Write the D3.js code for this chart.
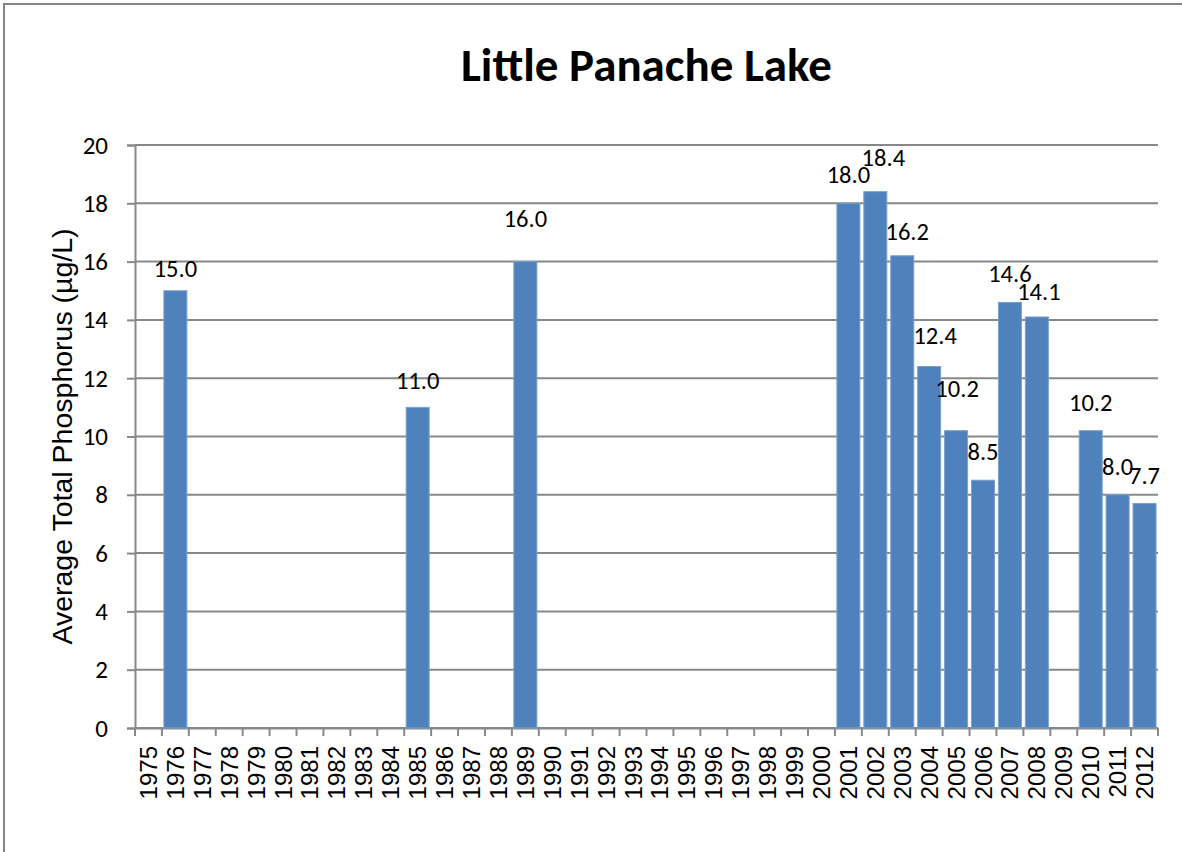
<!DOCTYPE html>
<html>
<head>
<meta charset="utf-8">
<script src="https://cdn.jsdelivr.net/npm/d3@7"></script>
<style>
  body { margin: 0; background: #fff; }
  svg { display: block; }
</style>
</head>
<body>
<div class="chart"></div>
<script>
// data
const years = d3.range(1975, 2013).map(String);
const sampleYears = ["1976", "1985", "1989", "2001", "2002", "2003", "2004", "2005", "2006", "2007", "2008", "2010", "2011", "2012"];
const phosphorus = [15.0, 11.0, 16.0, 18.0, 18.4, 16.2, 12.4, 10.2, 8.5, 14.6, 14.1, 10.2, 8.0, 7.7];
const yTicks = [0, 2, 4, 6, 8, 10, 12, 14, 16, 18, 20];

// small label nudges (the original labels were moved by hand to avoid overlaps)
const labelNudge = {
    "1976": [0, 6], "1985": [0, 2], "1989": [0, -15],
    "2002": [8, -6], "2003": [5, 4], "2004": [6, -3], "2005": [1, -14], "2008": [2, 3]
};

const data = sampleYears.map((y, i) => ({year: y, value: phosphorus[i]}));

const W = 1182, H = 852;
const margin = {top: 145, right: 24, bottom: 124, left: 135};
const width = W - margin.left - margin.right;
const height = H - margin.top - margin.bottom;

const root = d3.select('.chart').append('svg')
    .attr('width', W)
    .attr('height', H);

// outer frame (only left + top visible in the original)
root.append('rect')
    .attr('x', 4).attr('y', 4)
    .attr('width', W + 20).attr('height', H + 20)
    .attr('fill', 'none')
    .attr('stroke', '#868686')
    .attr('stroke-width', 2);

root.append('text')
    .attr('x', margin.left + width / 2)
    .attr('y', 81)
    .attr('text-anchor', 'middle')
    .attr('font-family', 'Carlito, Calibri, Lato, sans-serif')
    .attr('font-weight', 'bold')
    .attr('font-size', '47px')
    .text('Little Panache Lake');

const svg = root.append('g')
    .attr('transform', `translate(${margin.left},${margin.top})`);

const xScale = d3.scaleBand()
    .domain(years)
    .range([0, width])
    .paddingInner(0.145)
    .paddingOuter(0.0725);

const yScale = d3.scaleLinear()
    .domain([0, 20])
    .range([height, 0]);

// gridlines
svg.append('g')
    .selectAll('line')
    .data(yTicks)
    .join('line')
    .attr('x1', 0).attr('x2', width)
    .attr('y1', d => yScale(d)).attr('y2', d => yScale(d))
    .attr('stroke', '#888')
    .attr('stroke-width', 2);

// y axis
const yAxis = d3.axisLeft(yScale).tickValues(yTicks).tickSize(8).tickPadding(19);
svg.append('g')
    .attr('class', 'y-axis')
    .call(yAxis)
    .call(g => g.select('.domain').attr('stroke', '#888').attr('stroke-width', 2))
    .call(g => g.selectAll('.tick line').attr('stroke', '#888').attr('stroke-width', 2))
    .call(g => g.selectAll('.tick text')
        .attr('font-family', 'Carlito, Calibri, Lato, sans-serif')
        .attr('font-size', '25px')
        .attr('fill', '#000'));

// x axis: ticks sit on category boundaries
const xAxis = d3.axisBottom(xScale).tickSize(0).tickPadding(0);
const gx = svg.append('g')
    .attr('class', 'x-axis')
    .attr('transform', `translate(0, ${height})`)
    .call(xAxis);
gx.select('.domain').attr('stroke', '#888').attr('stroke-width', 2);
gx.selectAll('.tick text')
    .attr('font-family', 'Liberation Sans, Arial, sans-serif')
    .attr('font-size', '24px')
    .attr('fill', '#000')
    .attr('text-anchor', 'end')
    .attr('dominant-baseline', 'central')
    .attr('transform', 'translate(0,18) rotate(-90)')
    .attr('x', 0).attr('y', 0).attr('dy', null);

const step = xScale.step();
const bounds = d3.range(years.length + 1).map(i => i * step);
gx.append('g')
    .selectAll('line')
    .data(bounds)
    .join('line')
    .attr('x1', d => d).attr('x2', d => d)
    .attr('y1', 0).attr('y2', 8)
    .attr('stroke', '#888')
    .attr('stroke-width', 2);

// y axis title
root.append('text')
    .attr('transform', `translate(72, ${margin.top + height / 2}) rotate(-90)`)
    .attr('text-anchor', 'middle')
    .attr('font-family', 'Liberation Sans, Arial, sans-serif')
    .attr('font-size', '28.5px')
    .text('Average Total Phosphorus (µg/L)');

// bars
svg.selectAll('rect.bar')
    .data(data)
    .join('rect')
    .attr('class', 'bar')
    .attr('x', d => xScale(d.year))
    .attr('y', d => yScale(d.value))
    .attr('width', xScale.bandwidth())
    .attr('height', d => height - yScale(d.value))
    .attr('fill', '#4f81bd')
    .attr('stroke', '#7ba0cf')
    .attr('stroke-width', 1);

// value labels
svg.selectAll('text.val')
    .data(data)
    .join('text')
    .attr('class', 'val')
    .attr('x', d => xScale(d.year) + xScale.bandwidth() / 2 + (labelNudge[d.year] || [0, 0])[0])
    .attr('y', d => yScale(d.value) - 20 + (labelNudge[d.year] || [0, 0])[1])
    .attr('text-anchor', 'middle')
    .attr('font-family', 'Carlito, Calibri, Lato, sans-serif')
    .attr('font-size', '24.5px')
    .attr('fill', '#000')
    .text(d => d3.format('.1f')(d.value));
</script>
</body>
</html>
